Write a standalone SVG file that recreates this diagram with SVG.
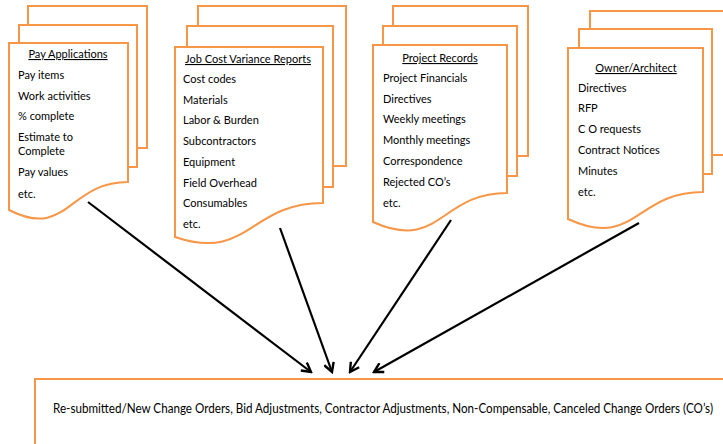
<svg xmlns="http://www.w3.org/2000/svg" width="723" height="444" viewBox="0 0 723 444">
<defs>
<style>
.pg{fill:#fff;stroke:#F79646;stroke-width:2}
.t{font-family:Lato,"Liberation Sans",sans-serif;font-size:11px;fill:#000}
.h{text-decoration:underline;text-anchor:middle}
.b{font-family:Lato,"Liberation Sans",sans-serif;font-size:12.5px;fill:#000}
.ar{stroke:#000;stroke-width:2.2;fill:none}
</style>
<marker id="ah" viewBox="0 0 12 12" refX="10" refY="6" markerWidth="12" markerHeight="12" markerUnits="userSpaceOnUse" orient="auto">
<polyline points="1,1 10,6 1,11" fill="none" stroke="#000" stroke-width="2.4"/>
</marker>
</defs>
<rect width="723" height="444" fill="#fff"/>

<g id="pay-applications">
<rect class="pg" x="28" y="6" width="119" height="142"/>
<rect class="pg" x="19" y="25" width="118" height="142"/>
<path class="pg" d="M9,43 H128 V182 C68,182 68,240 9,210 Z"/>
<text class="t h" x="68" y="58">Pay Applications</text>
<text class="t" x="18" y="79">Pay items</text>
<text class="t" x="18" y="100">Work activities</text>
<text class="t" x="18" y="120">% complete</text>
<text class="t" x="18" y="141">Estimate to</text>
<text class="t" x="18" y="155">Complete</text>
<text class="t" x="18" y="176">Pay values</text>
<text class="t" x="18" y="198">etc.</text>
</g>

<g id="job-cost">
<rect class="pg" x="198" y="6" width="148" height="160"/>
<rect class="pg" x="187" y="26" width="146" height="161"/>
<path class="pg" d="M175,47 H323 V203 C249,203 249,262 175,237 Z"/>
<text class="t h" x="248" y="63">Job Cost Variance Reports</text>
<text class="t" x="183" y="83">Cost codes</text>
<text class="t" x="183" y="104">Materials</text>
<text class="t" x="183" y="124">Labor &amp; Burden</text>
<text class="t" x="183" y="145">Subcontractors</text>
<text class="t" x="183" y="166">Equipment</text>
<text class="t" x="183" y="187">Field Overhead</text>
<text class="t" x="183" y="207">Consumables</text>
<text class="t" x="183" y="228">etc.</text>
</g>

<g id="project-records">
<rect class="pg" x="393" y="6" width="135" height="150"/>
<rect class="pg" x="383" y="26" width="134" height="150"/>
<path class="pg" d="M373,45 H507 V193 C440,193 440,252 373,222 Z"/>
<text class="t h" x="440" y="62">Project Records</text>
<text class="t" x="383" y="82">Project Financials</text>
<text class="t" x="383" y="103">Directives</text>
<text class="t" x="383" y="123">Weekly meetings</text>
<text class="t" x="383" y="144">Monthly meetings</text>
<text class="t" x="383" y="165">Correspondence</text>
<text class="t" x="383" y="186">Rejected CO’s</text>
<text class="t" x="383" y="207">etc.</text>
</g>

<g id="owner-architect">
<rect class="pg" x="590" y="11" width="140" height="144"/>
<rect class="pg" x="579" y="29" width="133" height="145"/>
<path class="pg" d="M568,48 H703 V192 C635,192 635,250 568,219 Z"/>
<text class="t h" x="636" y="72">Owner/Architect</text>
<text class="t" x="578" y="92">Directives</text>
<text class="t" x="578" y="112">RFP</text>
<text class="t" x="578" y="133">C O requests</text>
<text class="t" x="578" y="154">Contract Notices</text>
<text class="t" x="578" y="175">Minutes</text>
<text class="t" x="578" y="196">etc.</text>
</g>

<g id="result">
<rect class="pg" x="35" y="379" width="700" height="80"/>
<text class="b" x="53" y="413" textLength="660" lengthAdjust="spacingAndGlyphs">Re-submitted/New Change Orders, Bid Adjustments, Contractor Adjustments, Non-Compensable, Canceled Change Orders (CO’s)</text>
</g>

<g id="connectors">
<line class="ar" x1="88" y1="202" x2="311" y2="372" marker-end="url(#ah)"/>
<line class="ar" x1="280" y1="228" x2="332" y2="372" marker-end="url(#ah)"/>
<line class="ar" x1="451" y1="220" x2="350" y2="372" marker-end="url(#ah)"/>
<line class="ar" x1="639" y1="223" x2="374" y2="372" marker-end="url(#ah)"/>
</g>
</svg>
